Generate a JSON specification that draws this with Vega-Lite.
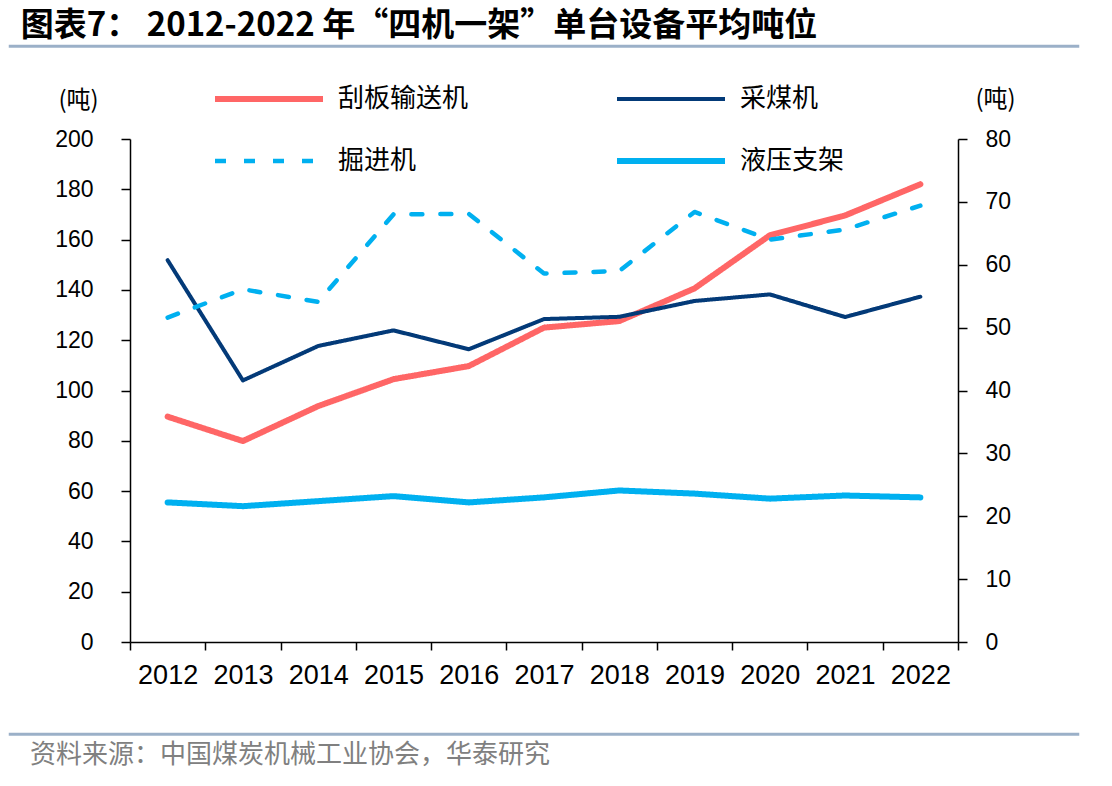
{
  "$schema": "https://vega.github.io/schema/vega-lite/v6.json",
  "background": "white",
  "padding": {"left": 8, "top": 9, "right": 8, "bottom": 10},
  "title": {
    "text": "图表7： 2012-2022 年“四机一架”单台设备平均吨位",
    "anchor": "start",
    "font": "Noto Sans CJK SC",
    "fontSize": 33,
    "fontWeight": "bold",
    "color": "#000000",
    "offset": 2,
    "dx": 12
  },
  "bounds": "flush",
  "center": true,
  "spacing": 92,
  "resolve": {
    "legend": {"color": "independent", "strokeDash": "independent", "strokeWidth": "independent"}
  },
  "datasets": {
    "tonnage": [
      {"year": "2012", "series": "刮板输送机", "value": 89.6},
      {"year": "2013", "series": "刮板输送机", "value": 79.9},
      {"year": "2014", "series": "刮板输送机", "value": 93.8},
      {"year": "2015", "series": "刮板输送机", "value": 104.5},
      {"year": "2016", "series": "刮板输送机", "value": 109.7},
      {"year": "2017", "series": "刮板输送机", "value": 125.0},
      {"year": "2018", "series": "刮板输送机", "value": 127.6},
      {"year": "2019", "series": "刮板输送机", "value": 140.6},
      {"year": "2020", "series": "刮板输送机", "value": 161.7},
      {"year": "2021", "series": "刮板输送机", "value": 169.6},
      {"year": "2022", "series": "刮板输送机", "value": 182.0},
      {"year": "2012", "series": "采煤机", "value": 151.8},
      {"year": "2013", "series": "采煤机", "value": 104.0},
      {"year": "2014", "series": "采煤机", "value": 117.7},
      {"year": "2015", "series": "采煤机", "value": 123.9},
      {"year": "2016", "series": "采煤机", "value": 116.4},
      {"year": "2017", "series": "采煤机", "value": 128.4},
      {"year": "2018", "series": "采煤机", "value": 129.3},
      {"year": "2019", "series": "采煤机", "value": 135.6},
      {"year": "2020", "series": "采煤机", "value": 138.2},
      {"year": "2021", "series": "采煤机", "value": 129.2},
      {"year": "2022", "series": "采煤机", "value": 137.3},
      {"year": "2012", "series": "掘进机", "value": 51.6},
      {"year": "2013", "series": "掘进机", "value": 56.1},
      {"year": "2014", "series": "掘进机", "value": 54.1},
      {"year": "2015", "series": "掘进机", "value": 68.0},
      {"year": "2016", "series": "掘进机", "value": 68.1},
      {"year": "2017", "series": "掘进机", "value": 58.6},
      {"year": "2018", "series": "掘进机", "value": 59.0},
      {"year": "2019", "series": "掘进机", "value": 68.4},
      {"year": "2020", "series": "掘进机", "value": 64.0},
      {"year": "2021", "series": "掘进机", "value": 65.6},
      {"year": "2022", "series": "掘进机", "value": 69.4},
      {"year": "2012", "series": "液压支架", "value": 22.2},
      {"year": "2013", "series": "液压支架", "value": 21.6},
      {"year": "2014", "series": "液压支架", "value": 22.4},
      {"year": "2015", "series": "液压支架", "value": 23.2},
      {"year": "2016", "series": "液压支架", "value": 22.2},
      {"year": "2017", "series": "液压支架", "value": 23.0},
      {"year": "2018", "series": "液压支架", "value": 24.1},
      {"year": "2019", "series": "液压支架", "value": 23.6},
      {"year": "2020", "series": "液压支架", "value": 22.8},
      {"year": "2021", "series": "液压支架", "value": 23.3},
      {"year": "2022", "series": "液压支架", "value": 23.0}
    ]
  },
  "vconcat": [
    {
      "width": 1068,
      "height": 0.5,
      "data": {"values": []},
      "mark": "text",
      "view": {"stroke": "#9BB0C8", "strokeWidth": 2.5, "fill": null}
    },
    {
      "width": 828,
      "height": 503,
      "data": {"name": "tonnage"},
      "view": {"stroke": null},
      "layer": [
        {
          "transform": [{"filter": {"field": "series", "oneOf": ["刮板输送机", "采煤机"]}}],
          "mark": {"type": "line", "strokeCap": "round", "strokeJoin": "round"},
          "encoding": {
            "x": {
              "field": "year",
              "type": "ordinal",
              "scale": {"type": "band", "paddingInner": 0, "paddingOuter": 0},
              "axis": {
                "title": null,
                "labelAngle": 0,
                "tickBand": "extent",
                "tickSize": 8,
                "tickColor": "#000000",
                "domainColor": "#000000",
                "domainWidth": 1.5,
                "tickWidth": 1.5,
                "labelFont": "Liberation Sans",
                "labelFontSize": 27,
                "labelColor": "#000000",
                "labelPadding": 12,
                "grid": false
              }
            },
            "y": {
              "field": "value",
              "type": "quantitative",
              "scale": {"domain": [0, 200], "nice": false},
              "axis": {
                "orient": "left",
                "values": [0, 20, 40, 60, 80, 100, 120, 140, 160, 180, 200],
                "grid": false,
                "domainColor": "#000000",
                "domainWidth": 1.5,
                "tickColor": "#000000",
                "tickWidth": 1.5,
                "tickSize": 9,
                "labelFont": "Liberation Sans",
                "labelFontSize": 23,
                "labelColor": "#000000",
                "labelPadding": 28,
                "title": "(吨)",
                "titleAngle": 0,
                "titleX": -52,
                "titleY": -39,
                "titleAlign": "center",
                "titleBaseline": "middle",
                "titleFont": "Noto Sans CJK SC",
                "titleFontSize": 24,
                "titleFontWeight": "normal",
                "titleColor": "#000000"
              }
            },
            "color": {
              "field": "series",
              "type": "nominal",
              "scale": {
                "domain": ["刮板输送机", "采煤机", "掘进机", "液压支架"],
                "range": ["#FF6666", "#033A78", "#00B0F0", "#00B0F0"]
              },
              "legend": {
                "title": null,
                "orient": "none",
                "legendX": 82,
                "legendY": -52,
                "direction": "horizontal",
                "columns": 2,
                "columnPadding": 145,
                "rowPadding": 36,
                "padding": 0,
                "symbolType": "stroke",
                "symbolSize": 11664,
                "clipHeight": 24,
                "labelFont": "Noto Sans CJK SC",
                "labelFontSize": 26,
                "labelColor": "#000000",
                "labelOffset": 12,
                "labelLimit": 300
              }
            },
            "strokeDash": {
              "field": "series",
              "type": "nominal",
              "scale": {
                "domain": ["刮板输送机", "采煤机", "掘进机", "液压支架"],
                "range": [[1, 0], [1, 0], [11, 18], [1, 0]]
              }
            },
            "strokeWidth": {
              "field": "series",
              "type": "nominal",
              "scale": {
                "type": "ordinal",
                "domain": ["刮板输送机", "采煤机", "掘进机", "液压支架"],
                "range": [6, 4, 4.5, 6]
              }
            }
          }
        },
        {
          "transform": [{"filter": {"field": "series", "oneOf": ["掘进机", "液压支架"]}}],
          "mark": {"type": "line", "strokeCap": "round", "strokeJoin": "round"},
          "encoding": {
            "x": {"field": "year", "type": "ordinal", "scale": {"type": "band", "paddingInner": 0, "paddingOuter": 0}},
            "y": {
              "field": "value",
              "type": "quantitative",
              "scale": {"domain": [0, 80], "nice": false},
              "axis": {
                "orient": "right",
                "values": [0, 10, 20, 30, 40, 50, 60, 70, 80],
                "grid": false,
                "domainColor": "#000000",
                "domainWidth": 1.5,
                "tickColor": "#000000",
                "tickWidth": 1.5,
                "tickSize": 9,
                "labelFont": "Liberation Sans",
                "labelFontSize": 23,
                "labelColor": "#000000",
                "labelPadding": 18,
                "title": "(吨)",
                "titleAngle": 0,
                "titleX": 37,
                "titleY": -40,
                "titleAlign": "center",
                "titleBaseline": "middle",
                "titleFont": "Noto Sans CJK SC",
                "titleFontSize": 24,
                "titleFontWeight": "normal",
                "titleColor": "#000000"
              }
            },
            "color": {
              "field": "series",
              "type": "nominal",
              "scale": {
                "domain": ["刮板输送机", "采煤机", "掘进机", "液压支架"],
                "range": ["#FF6666", "#033A78", "#00B0F0", "#00B0F0"]
              }
            },
            "strokeDash": {
              "field": "series",
              "type": "nominal",
              "scale": {
                "domain": ["刮板输送机", "采煤机", "掘进机", "液压支架"],
                "range": [[1, 0], [1, 0], [11, 18], [1, 0]]
              }
            },
            "strokeWidth": {
              "field": "series",
              "type": "nominal",
              "scale": {
                "type": "ordinal",
                "domain": ["刮板输送机", "采煤机", "掘进机", "液压支架"],
                "range": [6, 4, 4.5, 6]
              }
            }
          }
        }
      ],
      "resolve": {"scale": {"y": "independent"}}
    },
    {
      "width": 1068,
      "height": 0.5,
      "data": {"values": []},
      "mark": "text",
      "view": {"stroke": "#9BB0C8", "strokeWidth": 2.5, "fill": null},
      "title": {
        "text": "资料来源：中国煤炭机械工业协会，华泰研究",
        "orient": "bottom",
        "anchor": "start",
        "font": "Noto Sans CJK SC",
        "fontSize": 26,
        "fontWeight": "normal",
        "color": "#808080",
        "offset": 7,
        "dx": 20
      }
    }
  ]
}
